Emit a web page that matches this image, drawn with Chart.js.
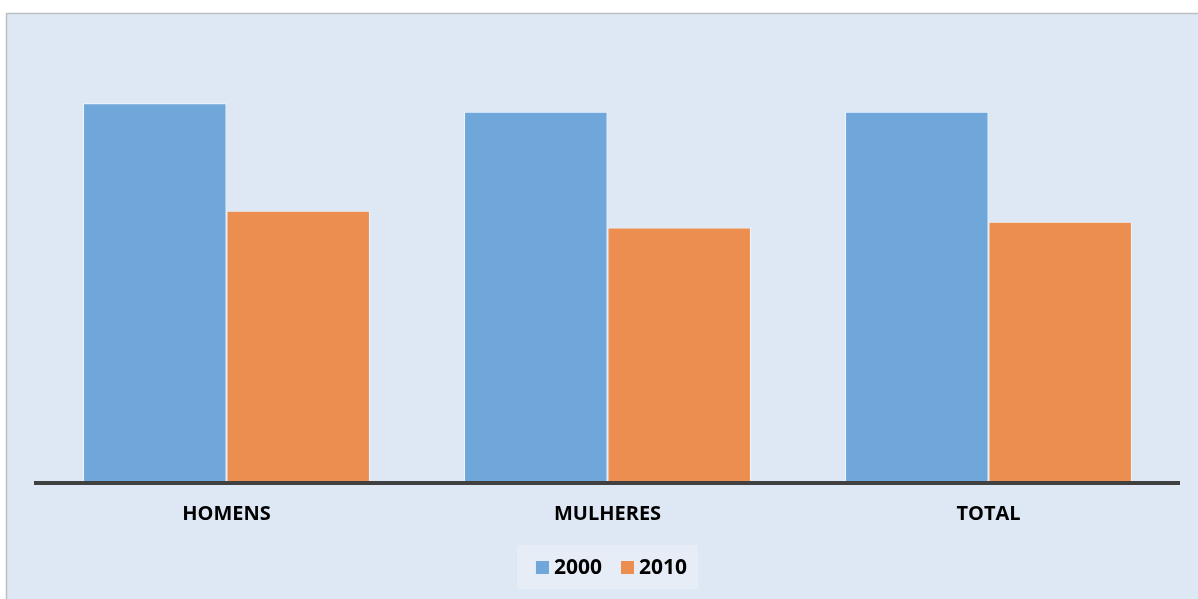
<!DOCTYPE html>
<html>
<head>
<meta charset="utf-8">
<script src="https://cdn.jsdelivr.net/npm/chart.js@4.4.1/dist/chart.umd.min.js"></script>
<style>
  html, body { margin: 0; padding: 0; background: #fff; }
  #wrap { position: relative; width: 1198px; height: 599px; }
</style>
</head>
<body>
<div id="wrap"><canvas id="chart" width="1198" height="599"></canvas></div>
<script>
// Data
const categories = ['HOMENS', 'MULHERES', 'TOTAL'];
const seriesLabels = ['2000', '2010'];
const values2000 = [20.5, 20.05, 20.05];
const values2010 = [14.7, 13.8, 14.1];

const seriesColors = ['#70a7db', '#eb8e50'];
const FONT = "'Open Sans', 'DejaVu Sans', sans-serif";

// Panel background + grey frame behind the chart
const panelBackground = {
    id: 'panelBackground',
    beforeDraw(chart) {
        const ctx = chart.ctx;
        ctx.save();
        ctx.fillStyle = '#ffffff';
        ctx.fillRect(0, 0, chart.width, chart.height);
        ctx.fillStyle = '#dee8f4';
        ctx.fillRect(7, 14, chart.width - 7, chart.height - 14);
        ctx.strokeStyle = '#bfbfbf';
        ctx.lineWidth = 1.5;
        ctx.beginPath();
        ctx.moveTo(6.5, chart.height);
        ctx.lineTo(6.5, 13.5);
        ctx.lineTo(chart.width, 13.5);
        ctx.stroke();
        ctx.restore();
    }
};

// Legend drawn under the axis, centred on the plot, with a lighter box
const boxedLegend = {
    id: 'boxedLegend',
    afterDraw(chart) {
        const ctx = chart.ctx;
        const area = chart.chartArea;
        const cx = (area.left + area.right) / 2;
        const sq = 13, gap = 5, itemGap = 19;
        ctx.save();
        ctx.font = 'bold 21px ' + FONT;
        const items = chart.data.datasets.map((ds) => ({
            label: ds.label,
            color: ds.backgroundColor,
            w: ctx.measureText(ds.label).width
        }));
        let total = 0;
        items.forEach((it, i) => { total += sq + gap + it.w + (i ? itemGap : 0); });

        const boxW = 181, boxTop = 545, boxH = 44;
        ctx.fillStyle = '#e6edf6';
        ctx.fillRect(cx - boxW / 2, boxTop, boxW, boxH);

        let x = cx - total / 2 + 4;
        const baseY = 574;
        items.forEach((it, i) => {
            if (i) x += itemGap;
            ctx.fillStyle = it.color;
            ctx.fillRect(x, 561, sq, sq);
            x += sq + gap;
            ctx.fillStyle = '#000';
            ctx.textBaseline = 'alphabetic';
            ctx.fillText(it.label, x, baseY);
            x += it.w;
        });
        ctx.restore();
    }
};

new Chart(document.getElementById('chart'), {
    type: 'bar',
    data: {
        labels: categories,
        datasets: [
            {
                label: seriesLabels[0],
                data: values2000,
                backgroundColor: seriesColors[0],
                borderColor: 'rgba(255,255,255,0.55)',
                borderWidth: 1
            },
            {
                label: seriesLabels[1],
                data: values2010,
                backgroundColor: seriesColors[1],
                borderColor: 'rgba(255,255,255,0.55)',
                borderWidth: 1
            }
        ]
    },
    options: {
        responsive: false,
        animation: false,
        layout: { padding: { left: 36, right: 19, top: 20, bottom: 0 } },
        datasets: {
            bar: { categoryPercentage: 0.753, barPercentage: 1.0 }
        },
        plugins: {
            legend: { display: false },
            tooltip: { enabled: false }
        },
        scales: {
            x: {
                grid: { display: false, drawTicks: false },
                border: { display: true, color: '#404040', width: 4, z: 1 },
                ticks: {
                    padding: 19,
                    color: '#000',
                    font: { family: FONT, size: 20, weight: 'bold' }
                },
                afterFit(scale) { scale.height = 116; }
            },
            y: {
                display: false,
                min: 0,
                max: 25
            }
        }
    },
    plugins: [panelBackground, boxedLegend]
});
</script>
</body>
</html>
